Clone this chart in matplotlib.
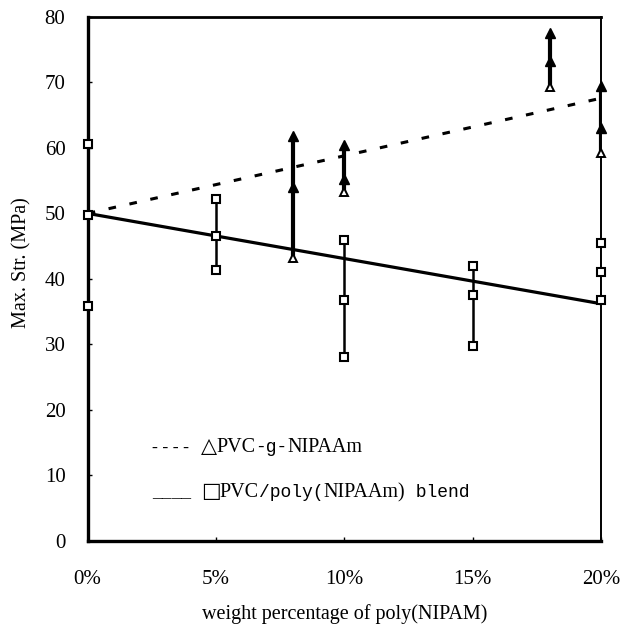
import matplotlib
matplotlib.use('Agg')
import matplotlib.pyplot as plt

# 数据：PVC/poly(NIPAAm) 共混物（方块）
blend_x = [0, 5, 10, 15, 20]
blend_hi = [60.6, 52.2, 46.0, 41.9, 45.5]
blend_mid = [49.8, 46.5, 36.7, 37.5, 41.0]
blend_lo = [35.8, 41.4, 28.0, 29.7, 36.7]

# 数据：PVC-g-NIPAAm 接枝（三角）
graft_x = [8, 10, 18, 20]
graft_hi = [61.8, 60.5, 77.5, 69.4]
graft_mid = [54.0, 55.2, 73.3, 63.0]
graft_lo = [43.2, 53.3, 69.3, 59.2]

# 趋势线
trend_x = [0, 20]
graft_trend = [50.0, 67.6]
blend_trend = [50.0, 36.2]

x_ticks = [0, 5, 10, 15, 20]
x_labels = ['0%', '5%', '10%', '15%', '20%']
y_ticks = [0, 10, 20, 30, 40, 50, 60, 70, 80]

serif = ['Liberation Serif', 'DejaVu Serif']
mono = ['Liberation Mono', 'DejaVu Sans Mono']
plt.rcParams['font.family'] = serif

fig = plt.figure(figsize=(6.21, 6.26), dpi=100)
ax = fig.add_axes([0.1412, 0.1363, 0.8266, 0.8365])

# 趋势线
ax.plot(trend_x, graft_trend, color='black', lw=2.2, dashes=(2.5, 4.5), zorder=2)
ax.plot(trend_x, blend_trend, color='black', lw=2.3, zorder=2)

# 方块的竖线
ax.vlines(blend_x, blend_lo, blend_hi, color='black', lw=1.8, zorder=3)
for ys in (blend_hi, blend_mid, blend_lo):
    ax.plot(blend_x, ys, ls='none', marker='s', ms=5.2, mfc='white', mec='black', mew=1.5,
            clip_on=False, zorder=4)

# 三角的竖线
ax.vlines(graft_x, graft_lo, graft_hi, color='black', lw=3, zorder=3)
for ys in (graft_hi, graft_mid):
    ax.plot(graft_x, ys, ls='none', marker='^', ms=6.5, mfc='black', mec='black',
            clip_on=False, zorder=4)
ax.plot(graft_x, graft_lo, ls='none', marker='^', ms=6, mfc='white', mec='black', mew=1.4,
        clip_on=False, zorder=4)

ax.set_xlim(0, 20)
ax.set_ylim(0, 80)
ax.set_xticks(x_ticks)
ax.set_xticklabels(x_labels)
ax.set_yticks(y_ticks)
ax.tick_params(direction='in', length=3, width=1, labelsize=15, color='black')
ax.tick_params(axis='x', pad=21)
ax.tick_params(axis='y', pad=16)

ax.spines['left'].set_linewidth(2.4)
ax.spines['bottom'].set_linewidth(2.4)
ax.spines['top'].set_linewidth(2)
ax.spines['right'].set_linewidth(1.4)

# 图例文字，分段拼接（部分是等宽字体）
renderer = fig.canvas.get_renderer()


def put_pieces(x0, y0, pieces):
    xpix, ypix = fig.transFigure.transform((x0, y0))
    for s, fam, size, gap in pieces:
        xpix += gap
        t = fig.text(xpix / fig.bbox.width, ypix / fig.bbox.height, s, family=fam,
                     fontsize=size, ha='left', va='baseline')
        bb = t.get_window_extent(renderer)
        xpix = bb.x1


put_pieces(152 / 621, 1 - 452 / 626, [
    ('- - - -', serif, 13, 0),
    ('△', ['DejaVu Sans'], 15, 12),
    ('PVC', serif, 14.5, -1),
    ('-g-', mono, 13, 0),
    ('NIPAAm', serif, 14.5, 0),
])
put_pieces(152 / 621, 1 - 497 / 626, [
    ('____', serif, 14, 0),
    ('□', ['DejaVu Sans'], 15, 10),
    ('PVC', serif, 14.5, -1),
    ('/poly(', mono, 13, 0),
    ('NIPAAm)', serif, 14.5, 0),
    (' blend', mono, 13, 0),
])

fig.text(0.555, 0.019, 'weight percentage of poly(NIPAM)', fontsize=14.5, ha='center', va='center')
fig.text(0.036, 0.58, 'Max. Str. (MPa)', fontsize=14.5, ha='center', va='center', rotation=90)

fig.savefig('out.png', dpi=100)
